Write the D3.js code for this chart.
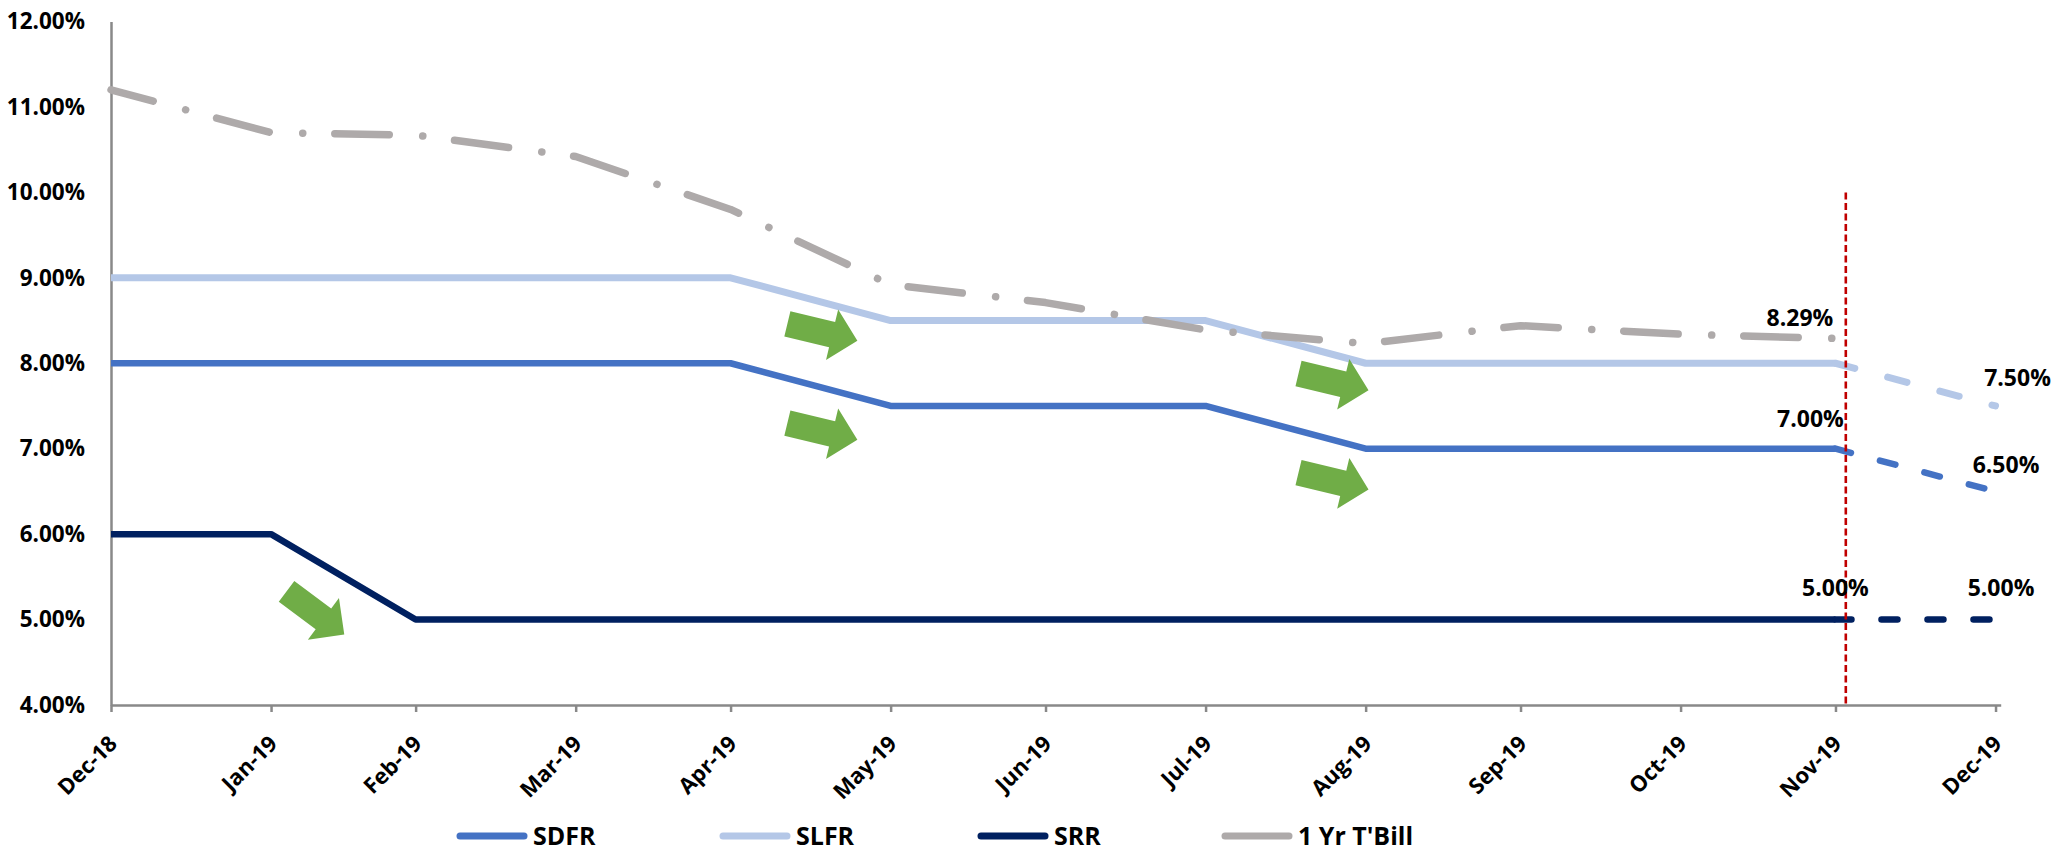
<!DOCTYPE html>
<html>
<head>
<meta charset="utf-8">
<script src="https://cdn.jsdelivr.net/npm/d3@7"></script>
<style>
  body { margin: 0; background: #fff; }
  text { font-family: "Open Sans", sans-serif; font-weight: 700; fill: #000; }
</style>
</head>
<body>
<svg id="chart" width="2061" height="851"></svg>
<script>
// Month labels and the month-end dates they sit on
const months = ["Dec-18", "Jan-19", "Feb-19", "Mar-19", "Apr-19", "May-19", "Jun-19",
                "Jul-19", "Aug-19", "Sep-19", "Oct-19", "Nov-19", "Dec-19"];
const monthEnds = ["2018-12-31", "2019-01-31", "2019-02-28", "2019-03-31", "2019-04-30",
                   "2019-05-31", "2019-06-30", "2019-07-31", "2019-08-31", "2019-09-30",
                   "2019-10-31", "2019-11-30", "2019-12-31"];

// Rates (%) — last point of each policy rate is the projection
const sdfr  = [8, 8, 8, 8, 8, 7.5, 7.5, 7.5, 7, 7, 7, 7, 6.5];
const slfr  = [9, 9, 9, 9, 9, 8.5, 8.5, 8.5, 8, 8, 8, 8, 7.5];
const srr   = [6, 6, 5, 5, 5, 5, 5, 5, 5, 5, 5, 5, 5];
const tbill = [11.20, 10.70, 10.67, 10.42, 9.80, 8.92, 8.71, 8.39, 8.23, 8.44, 8.34, 8.29, null];

const yTicks = [4, 5, 6, 7, 8, 9, 10, 11, 12];

// Green trend arrows: anchor (tail centre) in data terms plus heading in degrees
const arrowDates  = ["2019-02-03", "2019-05-11", "2019-05-11", "2019-08-18", "2019-08-18"];
const arrowValues = [5.33, 8.46, 7.30, 7.88, 6.72];
const arrowAngles = [36.7, 13.5, 13.5, 13.5, 13.5];

// Vertical marker for the latest data date
const markerDate = "2019-12-02";
const markerTop = 10;

const parse = d3.utcParse("%Y-%m-%d");
const dates = monthEnds.map(parse);

const svg = d3.select("#chart");

const x = d3.scaleUtc()
  .domain([parse("2018-12-31"), parse("2020-01-01")])
  .range([111, 2000.7]);
const y = d3.scaleLinear().domain([4, 12]).range([705, 21.5]);

const axisColor = "#898989";

// X axis
const xAxis = svg.append("g")
  .attr("transform", `translate(0,${y(4)})`)
  .call(d3.axisBottom(x)
    .tickValues(dates)
    .tickSize(7)
    .tickSizeOuter(0)
    .tickFormat((d, i) => months[i]));
xAxis.select(".domain").attr("stroke", axisColor).attr("stroke-width", 2.5);
xAxis.selectAll(".tick line").attr("stroke", axisColor).attr("stroke-width", 2.5);
xAxis.selectAll(".tick text")
  .attr("font-size", 22)
  .attr("text-anchor", "end")
  .attr("dy", null)
  .attr("y", null)
  .attr("transform", "translate(7,40) rotate(-45)");

// Y axis
const yAxis = svg.append("g")
  .attr("transform", `translate(${x(dates[0])},0)`)
  .call(d3.axisLeft(y)
    .tickValues(yTicks)
    .tickSize(0)
    .tickSizeOuter(0)
    .tickPadding(26)
    .tickFormat(d => d.toFixed(2) + "%"));
yAxis.select(".domain").attr("stroke", axisColor).attr("stroke-width", 2.5);
yAxis.selectAll(".tick text").attr("font-size", 22.5);

const line = d3.line()
  .defined(d => d.v != null)
  .x(d => x(d.date))
  .y(d => y(d.v));

const pts = arr => arr.map((v, i) => ({ date: dates[i], v }));

const series = [
  { name: "SDFR", values: sdfr, color: "#4472C4", width: 6.5, dash: "16 30" },
  { name: "SLFR", values: slfr, color: "#B4C7E7", width: 7, dash: "20 34" },
  { name: "SRR",  values: srr,  color: "#002060", width: 6.5, dash: "16 30" }
];

const lines = svg.append("g").attr("fill", "none");

series.forEach(s => {
  const p = pts(s.values);
  lines.append("path")
    .attr("d", line(p.slice(0, 12)))
    .attr("stroke", s.color)
    .attr("stroke-width", s.width)
    .attr("stroke-linejoin", "round");
  lines.append("path")
    .attr("d", line(p.slice(11)))
    .attr("stroke", s.color)
    .attr("stroke-width", s.width)
    .attr("stroke-linecap", "round")
    .attr("stroke-dasharray", s.dash);
});

// 1 Yr T-Bill, long dash-dot
lines.append("path")
  .attr("d", line(pts(tbill).slice(0, 12)))
  .attr("stroke", "#AEAAAA")
  .attr("stroke-width", 7.5)
  .attr("stroke-linecap", "round")
  .attr("stroke-linejoin", "round")
  .attr("stroke-dasharray", "54.5 33.5 0.1 32")
  .attr("stroke-dashoffset", 10.8);

// Trend arrows
const arrowShape = "M0,-13 L46,-13 L46,-26 L72,0 L46,26 L46,13 L0,13 Z";
svg.append("g").selectAll("path")
  .data(arrowDates.map((d, i) => ({ date: parse(d), v: arrowValues[i], a: arrowAngles[i] })))
  .join("path")
  .attr("d", arrowShape)
  .attr("fill", "#70AD47")
  .attr("transform", d => `translate(${x(d.date)},${y(d.v)}) rotate(${d.a})`);

// Marker line
svg.append("line")
  .attr("x1", x(parse(markerDate))).attr("x2", x(parse(markerDate)))
  .attr("y1", y(markerTop)).attr("y2", y(4))
  .attr("stroke", "#C00000")
  .attr("stroke-width", 2.6)
  .attr("stroke-dasharray", "7 3.5");

// Value labels: [series values, index, dx, dy]
const fmt = v => v.toFixed(2) + "%";
const valueLabels = [
  [tbill, 11, -35.5, -12],
  [sdfr, 11, -25, -22],
  [srr, 11, 0, -23.6],
  [slfr, 12, 22, -20],
  [sdfr, 12, 10.5, -18],
  [srr, 12, 5.5, -23.6]
];
svg.append("g").selectAll("text")
  .data(valueLabels)
  .join("text")
  .attr("font-size", 23)
  .attr("text-anchor", "middle")
  .attr("x", d => x(dates[d[1]]) + d[2])
  .attr("y", d => y(d[0][d[1]]) + d[3])
  .text(d => fmt(d[0][d[1]]));

// Legend
const legendItems = [
  { name: "SDFR", color: "#4472C4" },
  { name: "SLFR", color: "#B4C7E7" },
  { name: "SRR", color: "#002060" },
  { name: "1 Yr T'Bill", color: "#AEAAAA" }
];
const legendX = [457, 720, 978, 1222];
const ly = 836;
const legend = svg.append("g");
legendItems.forEach((it, i) => {
  const lx = legendX[i];
  legend.append("line")
    .attr("x1", lx + 3).attr("x2", lx + 67)
    .attr("y1", ly).attr("y2", ly)
    .attr("stroke", it.color)
    .attr("stroke-width", 7)
    .attr("stroke-linecap", "round");
  legend.append("text")
    .attr("x", lx + 76)
    .attr("y", ly)
    .attr("dy", "0.35em")
    .attr("font-size", 25)
    .text(it.name);
});
</script>
</body>
</html>
